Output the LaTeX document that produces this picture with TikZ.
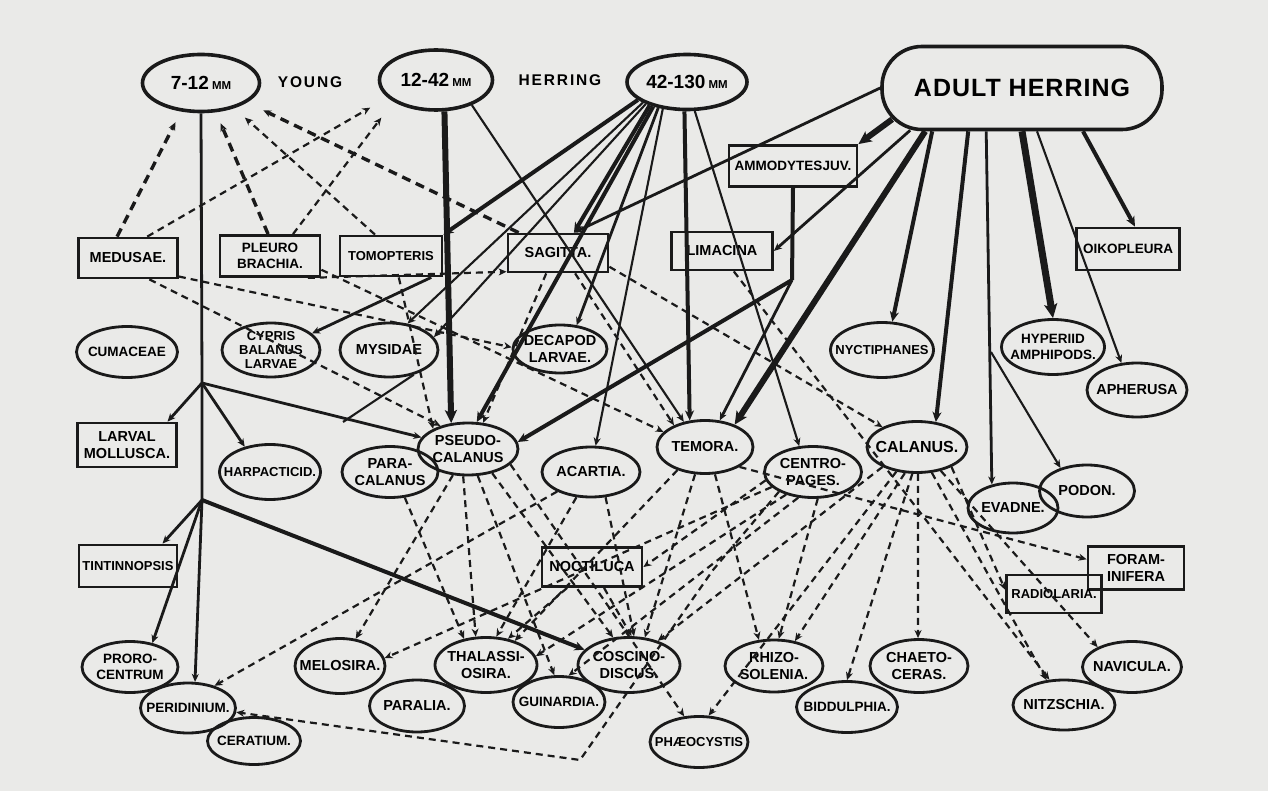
\documentclass[tikz,border=0pt]{standalone}
\usepackage{fontspec}
\newfontfamily\lab{Liberation Sans}
\usetikzlibrary{shapes.geometric,arrows.meta,calc}
\definecolor{paper}{RGB}{234,234,232}
\definecolor{ink}{RGB}{26,26,26}
\newcommand\lbsz[2]{\fontsize{#1}{#2}\selectfont}
\newcommand\EN[6][]{\node[ell,minimum width=#4,minimum height=#5] (#2) at (#3) {};\node[lbl,#1] (#2t) at (#2) {#6};}
\newcommand\BN[6][]{\node[box,minimum width=#4,minimum height=#5] (#2) at (#3) {};\node[lbl,#1] (#2t) at (#2) {#6};}
\begin{document}
\begin{tikzpicture}[x=1pt,y=-1pt,
 lbl/.style={font=\lab\bfseries\lbsz{14.5}{16.5},align=center,inner sep=0pt},
 sm/.style={font=\lab\bfseries\lbsz{13.5}{15.5}},
 xs/.style={font=\lab\bfseries\lbsz{13}{14.5}},
 big/.style={font=\lab\bfseries\lbsz{16}{18}},
 ell/.style={ellipse,draw=ink,line width=2.8pt,inner sep=0pt},
 box/.style={rectangle,draw=ink,line width=2.8pt,inner sep=0pt},
 tip/.style={-{Stealth[length=8pt,width=7pt,inset=2.5pt]}},
 ln1/.style={draw=ink,line width=2.1pt,tip},
 ln2/.style={draw=ink,line width=2.8pt,tip},
 ln3/.style={draw=ink,line width=4pt,-{Stealth[length=10pt,width=9pt,inset=3pt]}},
 ln4/.style={draw=ink,line width=6pt,-{Stealth[length=13pt,width=12pt,inset=3pt]}},
 dsh/.style={draw=ink,line width=2.2pt,dash pattern=on 7pt off 5pt,tip},
 hdsh/.style={draw=ink,line width=3.4pt,dash pattern=on 9pt off 6pt,tip},
]
\fill[paper] (0,0) rectangle (1268,791);
\useasboundingbox (0,0) rectangle (1268,791);

% herring stages
\node[ell,line width=3.6pt,minimum width=117,minimum height=57] (y712) at (201,83) {};
\node[lbl,font=\lab\bfseries\lbsz{19}{21}] (y712t) at (y712) {7-12\,{\lbsz{11.5}{12}MM}};
\node[lbl,font=\lab\bfseries\lbsz{15.5}{17}\addfontfeature{LetterSpace=12}] (young) at (310,82) {YOUNG};
\node[ell,line width=3.6pt,minimum width=113,minimum height=60] (y1242) at (436,80) {};
\node[lbl,font=\lab\bfseries\lbsz{19}{21}] (y1242t) at (y1242) {12-42\,{\lbsz{11.5}{12}MM}};
\node[lbl,font=\lab\bfseries\lbsz{15.5}{17}\addfontfeature{LetterSpace=12}] (herr) at (560,80) {HERRING};
\node[ell,line width=3.6pt,minimum width=120,minimum height=55] (y42130) at (687,82) {};
\node[lbl,font=\lab\bfseries\lbsz{19}{21}] (y42130t) at (y42130) {42-130\,{\lbsz{11.5}{12}MM}};
\node[rectangle,rounded corners=40pt,draw=ink,line width=3.6pt,minimum width=280,minimum height=83] (adult) at (1022,88) {};
\node[lbl,font=\lab\bfseries\lbsz{25}{27}\addfontfeature{LetterSpace=4}] (adultt) at (adult) {ADULT HERRING};

% boxes row
\BN{medusae}{128,258}{99}{40}{MEDUSAE.}
\BN[sm]{pleuro}{270,256}{100}{41}{PLEURO\\BRACHIA.}
\BN[xs]{tomop}{391,256}{102}{40}{TOMOPTERIS}
\BN{sagitta}{558,253}{100}{38}{SAGITTA.}
\BN{limacina}{722,251}{101}{38}{LIMACINA}
\BN[sm]{ammo}{793,166}{128}{41}{AMMODYTESJUV.}
\BN[sm]{oiko}{1128,249}{103}{42}{OIKOPLEURA}

% second row
\EN[sm]{cumacea}{127,352}{101}{51}{CUMACEAE}
\EN[font=\lab\bfseries\lbsz{13}{14}]{cypris}{271,350}{98}{54}{CYPRIS\\BALANUS\\LARVAE}
\EN{mysid}{389,350}{98}{54}{MYSIDAE}
\EN{decapod}{560,349}{94}{48}{DECAPOD\\LARVAE.}
\EN[xs]{nyct}{882,350}{103}{55}{NYCTIPHANES}
\EN[sm]{hyper}{1053,347}{103}{55}{HYPERIID\\AMPHIPODS.}
\EN{apher}{1137,390}{100}{54}{APHERUSA}

% copepod row
\BN{larvmoll}{127,445}{99}{44}{LARVAL\\MOLLUSCA.}
\EN[xs]{harpact}{270,472}{101}{55}{HARPACTICID.}
\EN{pseudo}{468,449}{100}{52}{PSEUDO-\\CALANUS}
\EN{para}{390,472}{96}{51}{PARA-\\CALANUS}
\EN{acartia}{591,472}{98}{50}{ACARTIA.}
\EN{temora}{705,447}{96}{53}{TEMORA.}
\EN{centro}{813,472}{97}{51}{CENTRO-\\PAGES.}
\EN[big]{calanus}{917,447}{100}{51}{CALANUS.}
\EN{evadne}{1013,508}{90}{50}{EVADNE.}
\EN{podon}{1087,491}{95}{52}{PODON.}

% boxes lower
\BN[xs]{tintin}{128,566}{98}{42}{TINTINNOPSIS}
\BN{noctiluca}{592,567}{100}{39}{NOCTILUCA}
\BN{foram}{1136,568}{96}{43}{FORAM-\\INIFERA}
\BN[xs]{radiol}{1054,594}{95}{38}{RADIOLARIA.}

% phytoplankton
\EN[sm]{proro}{130,667}{96}{51}{PRORO-\\CENTRUM}
\EN[sm]{peridin}{188,708}{95}{50}{PERIDINIUM.}
\EN[sm]{ceratium}{254,741}{93}{47}{CERATIUM.}
\EN{melosira}{340,666}{90}{55}{MELOSIRA.}
\EN{paralia}{417,706}{95}{52}{PARALIA.}
\EN{thalass}{486,665}{102}{55}{THALASSI-\\OSIRA.}
\EN[sm]{guinard}{559,702}{92}{51}{GUINARDIA.}
\EN{coscino}{629,665}{102}{55}{COSCINO-\\DISCUS.}
\EN[xs]{phaeo}{699,742}{98}{51}{PHÆOCYSTIS}
\EN{rhizo}{774,666}{98}{52}{RHIZO-\\SOLENIA.}
\EN[sm]{biddul}{847,707}{101}{51}{BIDDULPHIA.}
\EN{chaeto}{919,666}{98}{53}{CHAETO-\\CERAS.}
\EN{navicula}{1132,667}{99}{51}{NAVICULA.}
\EN{nitzsch}{1064,705}{102}{50}{NITZSCHIA.}

% junctions
\coordinate (J1) at (202,383);
\coordinate (J2) at (202,500);
\coordinate (JA) at (792,280);
\coordinate (JP) at (991,352);
\coordinate (JM) at (343,422);
\coordinate (B1) at (713,570);
\coordinate (B2) at (580,760);

% ---- solid: 7-12 mm
\draw[ln2,-] (y712.south) -- (J1) -- (J2);
\draw[ln2] (J2) -- (peridin.75);
\draw[ln2] (J1) -- (larvmoll.30);
\draw[ln2] (J1) -- (harpact.135);
\draw[ln2] (J1) -- (pseudo.166);
\draw[ln2] (J2) -- (tintin.33);
\draw[ln2] (J2) -- (proro.47);
\draw[ln3] (J2) -- (coscino.161);
% 12-42 mm
\draw[ln4] (y1242.-75) -- (pseudo.123);
\draw[ln1] (y1242.-35) -- (temora.130);
% 42-130 mm
\draw[ln3] (y42130.200) -- (tomop.north east);
\draw[ln1] (y42130.205) -- (mysid.55);
\draw[ln1] (y42130.208) -- (mysid.16);
\draw[ln3] (y42130.212) -- (sagitta.52);
\draw[ln3] (y42130.216) -- (pseudo.72);
\draw[ln2] (y42130.222) -- (decapod.55);
\draw[ln1] (y42130.228) -- (acartia.80);
\draw[ln3] (y42130.-95) -- (temora.120);
\draw[ln1] (y42130.-75) -- (centro.118);
% adult
\draw[ln2] (adult.west) -- (sagitta.52);
\draw[ln4] ($(adult.south west)+(12,-12)$) -- (ammo.north east);
\draw[ln2] ($(adult.south west)+(30,-1)$) -- (limacina.east);
\draw[ln4] ($(adult.south west)+(45,0)$) -- (temora.37);
\draw[ln3] ($(adult.south west)+(52,0)$) -- (nyct.70);
\draw[ln3] ($(adult.south west)+(88,0)$) -- (calanus.53);
\draw[ln2] ($(adult.south west)+(106,0)$) -- (evadne.132);
\draw[ln1] (JP) -- (podon.139);
\draw[draw=ink,line width=7pt,-{Stealth[length=14pt,width=13pt,inset=3pt]}] (adult.south) -- (hyper.north);
\draw[ln1] ($(adult.south)+(15,0)$) -- (apher.120);
\draw[ln3] ($(adult.south)+(61,0)$) -- ($(oiko.north)+(7,0)$);
% ammodytes
\draw[ln3,-] (ammo.south) -- (JA);
\draw[ln2] (JA) -- (temora.61);
\draw[ln3] (JA) -- (pseudo.8);
% tomopteris, mysidae
\draw[ln2] (tomop.-28) -- (cypris.22);
\draw[ln1,-] (mysid.-45) -- (JM);

% ---- dashed to young herring
\draw[hdsh,shorten >=12pt] (medusae.117) -- (y712.-125);
\draw[dsh,shorten >=20pt] (medusae.48) -- (y1242.-160);
\draw[hdsh,shorten >=12pt] (pleuro.95) -- (y712.-63);
\draw[dsh,shorten >=20pt] ($(pleuro.north)+(23,0)$) -- (y1242.-153);
\draw[dsh,shorten >=14pt] ($(tomop.north)+(-16,0)$) -- (y712.-37);
\draw[hdsh,shorten >=18pt] ($(sagitta.north west)+(12,0)$) -- (y712.-23);

% ---- dashed middle
\draw[dsh] (medusae.-20) -- (decapod.178);
\draw[dsh] (medusae.-45) -- (pseudo.140);
\draw[dsh] (pleuro.-30) -- (sagitta.-160);
\draw[dsh] (pleuro.-15) -- (temora.160);
\draw[dsh] (sagitta.-120) -- (pseudo.60);
\draw[dsh] (sagitta.-50) -- (temora.145);
\draw[dsh] (sagitta.-15) -- (calanus.150);
\draw[dsh] (limacina.-60) -- (nitzsch.120);
\draw[dsh] (tomop.-70) -- (pseudo.150);

% ---- dashed lower
\draw[dsh] (pseudo.-120) -- (melosira.60);
\draw[dsh] (pseudo.-100) -- (thalass.110);
\draw[dsh] (pseudo.-70) -- (guinard.100);
\draw[dsh] (pseudo.-45) -- (coscino.120);
\draw[dsh] (pseudo.-20) -- (phaeo.120);
\draw[dsh] (para.-60) -- (thalass.130);
\draw[dsh] (acartia.-150) -- (peridin.40);
\draw[dsh] (acartia.-120) -- (thalass.70);
\draw[dsh] (acartia.-60) -- (coscino.80);
\draw[dsh] (temora.-140) -- (thalass.40);
\draw[dsh] (temora.-110) -- (coscino.60);
\draw[dsh] (temora.-70) -- (rhizo.120);
\draw[dsh] (temora.-30) -- (foram.170);
\draw[dsh] (centro.-160) -- (melosira.10);
\draw[dsh] (centro.-140) -- (thalass.10);
\draw[dsh] (centro.-120) -- (guinard.70);
\draw[dsh] (centro.-80) -- (rhizo.80);
\draw[dsh] (centro.-170) -- (noctiluca.east);
\draw[dsh] (centro.-150) -- (B1) -- (B2) -- (peridin.-5);
\draw[dsh] (calanus.-150) -- (coscino.40);
\draw[dsh] (calanus.-130) -- (phaeo.70);
\draw[dsh] (calanus.-115) -- (rhizo.50);
\draw[dsh] (calanus.-100) -- (biddul.90);
\draw[dsh] (calanus.-88) -- (chaeto.92);
\draw[dsh] (calanus.-60) -- (nitzsch.125);
\draw[dsh] (calanus.-45) -- (navicula.150);
\draw[dsh] (calanus.-30) -- (radiol.175);
\draw[dsh] (noctiluca.-140) -- (thalass.50);
\draw[dsh] (noctiluca.-60) -- (coscino.85);
\end{tikzpicture}
\end{document}
